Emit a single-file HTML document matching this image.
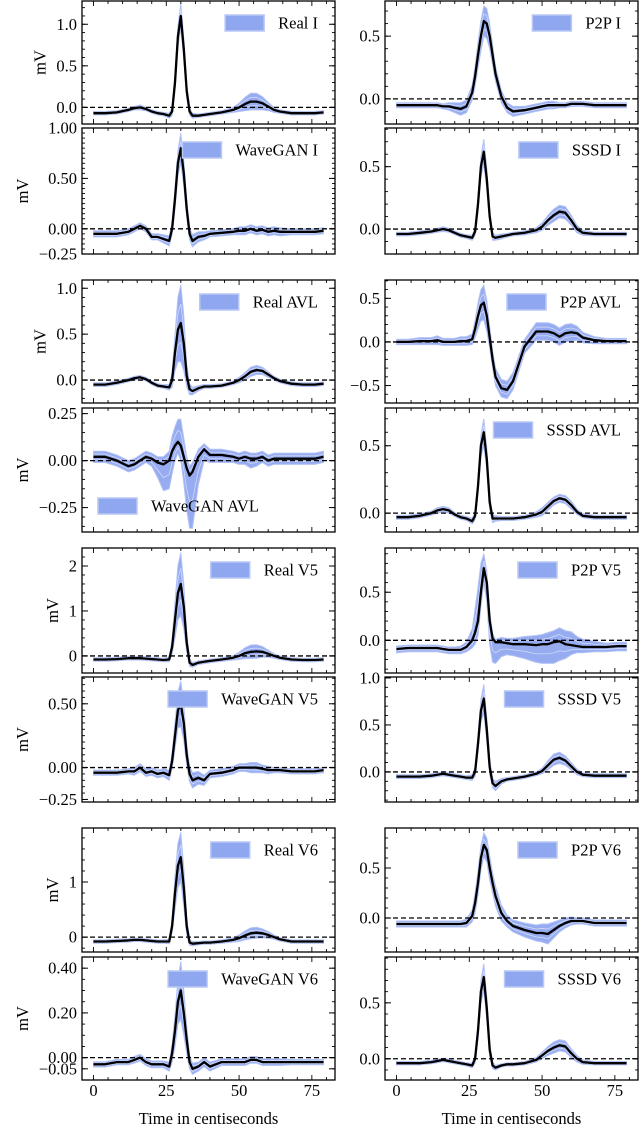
<!DOCTYPE html>
<html><head><meta charset="utf-8"><style>
html,body{margin:0;padding:0;background:#fff;}
svg{display:block;}
text{font-family:"Liberation Serif",serif;fill:#000;}
</style></head><body>
<svg id="fig" width="640" height="1126" viewBox="0 0 640 1126" xmlns="http://www.w3.org/2000/svg"></svg>
<script>
// shared time samples (centiseconds)
const T = [0,4,8,12,14,16,18,20,22,24,26,27,28,29,30,31,32,33,34,36,38,40,44,48,50,52,54,56,58,60,62,64,68,72,76,79];
const xTicks = [0,25,50,75];
const xTickLabels = ["0","25","50","75"];

// Panel series (mean and band half-widths)
const realIMean = [-0.07,-0.07,-0.06,-0.03,-0.01,0.0,-0.02,-0.05,-0.07,-0.08,-0.1,-0.05,0.3,0.85,1.1,0.7,0.2,-0.05,-0.1,-0.1,-0.09,-0.08,-0.06,-0.03,0.0,0.04,0.07,0.07,0.05,0.01,-0.03,-0.05,-0.07,-0.07,-0.07,-0.06];
const realIW = [0.02,0.02,0.02,0.02,0.02,0.03,0.02,0.02,0.02,0.02,0.03,0.05,0.1,0.12,0.15,0.12,0.08,0.04,0.03,0.02,0.02,0.02,0.02,0.03,0.05,0.08,0.1,0.1,0.08,0.05,0.03,0.02,0.02,0.02,0.02,0.02];
const p2pIMean = [-0.05,-0.05,-0.05,-0.05,-0.05,-0.06,-0.06,-0.07,-0.08,-0.06,0.05,0.18,0.35,0.5,0.62,0.6,0.5,0.35,0.2,0.02,-0.07,-0.1,-0.09,-0.07,-0.06,-0.05,-0.05,-0.05,-0.05,-0.04,-0.04,-0.04,-0.05,-0.05,-0.05,-0.05];
const p2pIW = [0.02,0.02,0.02,0.02,0.02,0.02,0.03,0.04,0.05,0.05,0.06,0.08,0.1,0.12,0.12,0.12,0.1,0.08,0.06,0.05,0.04,0.04,0.03,0.03,0.03,0.03,0.03,0.02,0.02,0.02,0.02,0.02,0.02,0.02,0.02,0.02];
const wganIMean = [-0.05,-0.05,-0.05,-0.03,0.0,0.03,0.0,-0.08,-0.08,-0.1,-0.12,0.0,0.3,0.65,0.8,0.55,0.2,-0.05,-0.12,-0.08,-0.07,-0.05,-0.04,-0.03,-0.02,-0.02,0.0,-0.02,-0.01,-0.03,-0.02,-0.03,-0.03,-0.03,-0.03,-0.02];
const wganIW = [0.03,0.03,0.03,0.03,0.03,0.03,0.03,0.03,0.03,0.04,0.05,0.06,0.1,0.12,0.15,0.12,0.08,0.06,0.06,0.05,0.04,0.03,0.03,0.03,0.04,0.04,0.04,0.04,0.04,0.04,0.04,0.04,0.03,0.03,0.03,0.03];
const sssdIMean = [-0.04,-0.04,-0.03,-0.02,-0.01,0.0,-0.01,-0.03,-0.05,-0.06,-0.07,-0.02,0.2,0.5,0.62,0.4,0.1,-0.06,-0.07,-0.06,-0.05,-0.04,-0.03,-0.01,0.02,0.07,0.11,0.14,0.13,0.07,0.0,-0.03,-0.04,-0.04,-0.04,-0.04];
const sssdIW = [0.015,0.015,0.015,0.015,0.015,0.02,0.015,0.015,0.015,0.015,0.02,0.03,0.05,0.08,0.1,0.08,0.05,0.03,0.02,0.02,0.015,0.015,0.015,0.02,0.03,0.04,0.05,0.05,0.05,0.04,0.03,0.02,0.015,0.015,0.015,0.015];
const realAvlMean = [-0.05,-0.05,-0.03,0.0,0.02,0.03,0.01,-0.03,-0.06,-0.07,-0.08,0.0,0.3,0.55,0.62,0.4,0.05,-0.1,-0.12,-0.09,-0.07,-0.07,-0.06,-0.03,0.0,0.04,0.09,0.11,0.1,0.06,0.02,-0.01,-0.04,-0.05,-0.05,-0.04];
const realAvlW = [0.02,0.02,0.02,0.02,0.02,0.02,0.02,0.02,0.02,0.02,0.03,0.08,0.2,0.35,0.42,0.3,0.12,0.06,0.04,0.03,0.02,0.02,0.02,0.02,0.03,0.04,0.05,0.05,0.04,0.03,0.02,0.02,0.02,0.02,0.02,0.02];
const p2pAvlMean = [0.0,0.0,0.01,0.01,0.02,0.0,0.0,0.0,0.01,0.01,0.03,0.15,0.3,0.42,0.45,0.3,0.05,-0.2,-0.4,-0.53,-0.55,-0.45,-0.05,0.12,0.12,0.12,0.1,0.06,0.1,0.11,0.1,0.05,0.02,0.01,0.01,0.01];
const p2pAvlW = [0.03,0.03,0.04,0.04,0.05,0.04,0.04,0.04,0.05,0.05,0.06,0.1,0.15,0.18,0.2,0.18,0.12,0.1,0.1,0.1,0.1,0.1,0.08,0.1,0.1,0.1,0.1,0.1,0.1,0.1,0.08,0.06,0.04,0.03,0.03,0.03];
const wganAvlMean = [0.02,0.02,0.0,-0.03,-0.02,0.0,0.02,0.01,-0.01,-0.02,0.0,0.05,0.08,0.1,0.08,0.02,-0.04,-0.08,-0.06,0.02,0.06,0.03,0.03,0.02,0.01,0.02,0.01,0.01,0.02,0.0,0.01,0.01,0.01,0.01,0.01,0.02];
const wganAvlWHi = [0.03,0.03,0.03,0.03,0.03,0.03,0.03,0.03,0.03,0.04,0.05,0.08,0.1,0.12,0.14,0.1,0.06,0.05,0.05,0.04,0.03,0.03,0.03,0.03,0.03,0.03,0.03,0.03,0.03,0.03,0.03,0.03,0.03,0.03,0.03,0.03];
const wganAvlWLo = [0.03,0.03,0.03,0.03,0.03,0.03,0.03,0.04,0.08,0.14,0.15,0.12,0.08,0.06,0.08,0.14,0.22,0.28,0.3,0.15,0.06,0.04,0.04,0.03,0.03,0.04,0.05,0.04,0.03,0.03,0.03,0.03,0.03,0.03,0.03,0.03];
const sssdAvlMean = [-0.03,-0.03,-0.02,0.0,0.02,0.03,0.02,-0.01,-0.03,-0.04,-0.06,-0.02,0.2,0.5,0.6,0.4,0.08,-0.04,-0.04,-0.04,-0.04,-0.04,-0.03,-0.01,0.01,0.05,0.09,0.11,0.1,0.06,0.01,-0.02,-0.03,-0.03,-0.03,-0.03];
const sssdAvlW = [0.015,0.015,0.015,0.015,0.02,0.02,0.02,0.015,0.015,0.015,0.02,0.03,0.05,0.08,0.1,0.08,0.05,0.03,0.02,0.015,0.015,0.015,0.015,0.02,0.03,0.03,0.03,0.03,0.03,0.03,0.02,0.015,0.015,0.015,0.015,0.015];
const realV5Mean = [-0.08,-0.08,-0.07,-0.05,-0.05,-0.05,-0.06,-0.07,-0.08,-0.09,-0.08,0.2,0.8,1.4,1.6,1.1,0.3,-0.15,-0.2,-0.15,-0.13,-0.11,-0.08,-0.04,0.0,0.06,0.09,0.1,0.09,0.05,0.0,-0.04,-0.08,-0.09,-0.09,-0.08];
const realV5W = [0.04,0.04,0.04,0.04,0.04,0.04,0.04,0.04,0.04,0.04,0.05,0.15,0.4,0.6,0.7,0.5,0.2,0.08,0.05,0.04,0.04,0.04,0.04,0.05,0.08,0.12,0.15,0.15,0.12,0.08,0.05,0.04,0.04,0.04,0.04,0.04];
const p2pV5Mean = [-0.09,-0.08,-0.08,-0.08,-0.08,-0.09,-0.1,-0.1,-0.1,-0.07,0.0,0.08,0.2,0.5,0.75,0.6,0.2,0.02,-0.02,-0.02,-0.03,-0.04,-0.04,-0.05,-0.04,-0.04,-0.02,-0.01,-0.04,-0.05,-0.06,-0.07,-0.07,-0.07,-0.06,-0.06];
const p2pV5WHi = [0.03,0.03,0.03,0.03,0.03,0.03,0.03,0.03,0.04,0.05,0.12,0.25,0.35,0.3,0.15,0.12,0.1,0.05,0.03,0.05,0.05,0.06,0.08,0.1,0.1,0.12,0.12,0.14,0.14,0.14,0.1,0.08,0.06,0.04,0.04,0.04];
const p2pV5WLo = [0.04,0.04,0.04,0.04,0.04,0.04,0.04,0.04,0.04,0.05,0.08,0.12,0.15,0.15,0.15,0.2,0.25,0.25,0.22,0.15,0.12,0.12,0.15,0.18,0.2,0.2,0.22,0.2,0.15,0.1,0.07,0.06,0.05,0.05,0.05,0.05];
const wganV5Mean = [-0.04,-0.04,-0.04,-0.03,-0.03,0.0,-0.04,-0.03,-0.05,-0.04,-0.06,0.05,0.25,0.45,0.5,0.35,0.1,-0.05,-0.1,-0.08,-0.1,-0.05,-0.04,-0.02,0.0,0.0,0.0,0.0,-0.01,-0.02,-0.02,-0.02,-0.03,-0.03,-0.03,-0.02];
const wganV5W = [0.02,0.02,0.02,0.02,0.03,0.03,0.03,0.03,0.03,0.03,0.04,0.06,0.1,0.14,0.18,0.14,0.08,0.06,0.06,0.05,0.04,0.03,0.03,0.03,0.03,0.03,0.04,0.04,0.03,0.03,0.02,0.02,0.02,0.02,0.02,0.02];
const sssdV5Mean = [-0.05,-0.05,-0.05,-0.04,-0.03,-0.02,-0.03,-0.04,-0.05,-0.06,-0.06,0.0,0.3,0.65,0.78,0.45,0.05,-0.12,-0.15,-0.1,-0.08,-0.07,-0.05,-0.02,0.01,0.07,0.13,0.15,0.12,0.06,0.0,-0.03,-0.04,-0.04,-0.04,-0.04];
const sssdV5W = [0.02,0.02,0.02,0.02,0.02,0.02,0.02,0.02,0.02,0.02,0.03,0.05,0.08,0.12,0.15,0.12,0.08,0.05,0.05,0.03,0.02,0.02,0.02,0.02,0.03,0.05,0.06,0.06,0.05,0.04,0.03,0.02,0.02,0.02,0.02,0.02];
const realV6Mean = [-0.08,-0.08,-0.07,-0.06,-0.05,-0.05,-0.06,-0.07,-0.08,-0.08,-0.08,0.2,0.8,1.3,1.45,0.9,0.2,-0.1,-0.12,-0.11,-0.1,-0.1,-0.08,-0.05,-0.02,0.03,0.07,0.08,0.07,0.04,0.0,-0.04,-0.08,-0.08,-0.08,-0.08];
const realV6W = [0.03,0.03,0.03,0.03,0.03,0.03,0.03,0.03,0.03,0.03,0.04,0.12,0.3,0.4,0.45,0.35,0.15,0.05,0.04,0.03,0.03,0.03,0.03,0.04,0.06,0.08,0.1,0.1,0.08,0.06,0.04,0.03,0.03,0.03,0.03,0.03];
const p2pV6Mean = [-0.06,-0.06,-0.06,-0.06,-0.06,-0.06,-0.06,-0.06,-0.06,-0.05,0.02,0.15,0.35,0.6,0.73,0.68,0.5,0.35,0.22,0.05,-0.03,-0.08,-0.12,-0.15,-0.15,-0.16,-0.12,-0.08,-0.05,-0.03,-0.03,-0.03,-0.05,-0.05,-0.05,-0.05];
const p2pV6W = [0.03,0.03,0.03,0.03,0.03,0.03,0.03,0.03,0.03,0.04,0.06,0.1,0.12,0.12,0.12,0.12,0.12,0.1,0.1,0.08,0.06,0.06,0.07,0.08,0.09,0.1,0.08,0.06,0.05,0.04,0.03,0.03,0.03,0.03,0.03,0.03];
const wganV6Mean = [-0.03,-0.03,-0.02,-0.02,-0.01,0.0,-0.02,-0.03,-0.03,-0.03,-0.04,0.02,0.12,0.25,0.3,0.2,0.08,-0.02,-0.05,-0.04,-0.02,-0.04,-0.02,-0.02,-0.02,-0.02,-0.01,-0.01,-0.02,-0.02,-0.02,-0.02,-0.02,-0.02,-0.02,-0.02];
const wganV6W = [0.012,0.012,0.012,0.012,0.015,0.015,0.015,0.015,0.015,0.015,0.02,0.04,0.07,0.1,0.13,0.1,0.06,0.03,0.025,0.02,0.02,0.02,0.015,0.015,0.015,0.015,0.015,0.015,0.015,0.015,0.015,0.015,0.012,0.012,0.012,0.012];
const sssdV6Mean = [-0.04,-0.04,-0.04,-0.03,-0.02,-0.01,-0.02,-0.03,-0.04,-0.05,-0.06,0.0,0.25,0.6,0.73,0.45,0.08,-0.06,-0.08,-0.06,-0.05,-0.05,-0.04,-0.01,0.03,0.07,0.1,0.12,0.11,0.05,0.0,-0.03,-0.04,-0.04,-0.04,-0.04];
const sssdV6W = [0.015,0.015,0.015,0.015,0.015,0.015,0.015,0.015,0.015,0.015,0.02,0.04,0.07,0.1,0.12,0.1,0.06,0.03,0.02,0.015,0.015,0.015,0.015,0.02,0.03,0.04,0.05,0.05,0.05,0.04,0.03,0.02,0.015,0.015,0.015,0.015];

// y ticks and labels per panel
const yTicksRealI=[0,0.5,1.0], yLabRealI=["0.0","0.5","1.0"];
const yTicksP2PI=[0,0.5], yLabP2PI=["0.0","0.5"];
const yTicksWI=[-0.25,0,0.5,1.0], yLabWI=["\u22120.25","0.00","0.50","1.00"];
const yTicksSI=[0,0.5], yLabSI=["0.0","0.5"];
const yTicksRAvl=[0,0.5,1.0], yLabRAvl=["0.0","0.5","1.0"];
const yTicksPAvl=[-0.5,0,0.5], yLabPAvl=["\u22120.5","0.0","0.5"];
const yTicksWAvl=[-0.25,0,0.25], yLabWAvl=["\u22120.25","0.00","0.25"];
const yTicksSAvl=[0,0.5], yLabSAvl=["0.0","0.5"];
const yTicksRV5=[0,1,2], yLabRV5=["0","1","2"];
const yTicksPV5=[0,0.5], yLabPV5=["0.0","0.5"];
const yTicksWV5=[-0.25,0,0.5], yLabWV5=["\u22120.25","0.00","0.50"];
const yTicksSV5=[0,0.5,1.0], yLabSV5=["0.0","0.5","1.0"];
const yTicksRV6=[0,1], yLabRV6=["0","1"];
const yTicksPV6=[0,0.5], yLabPV6=["0.0","0.5"];
const yTicksWV6=[-0.05,0,0.2,0.4], yLabWV6=["\u22120.05","0.00","0.20","0.40"];
const yTicksSV6=[0,0.5], yLabSV6=["0.0","0.5"];

const NS="http://www.w3.org/2000/svg";
const svg=document.getElementById('fig');
function mk(tag,attrs,parent){const e=document.createElementNS(NS,tag);for(const k in attrs)e.setAttribute(k,attrs[k]);(parent||svg).appendChild(e);return e;}

const FS=16.5;
const COLX={L:[82,335],R:[385,638]};
const ROWY=[[1,124],[128,254],[280,403],[408,532],[548,673],[677,802],[828,952],[957,1080]];
const XMIN=-3.95,XMAX=82.95;

const panels=[
 {id:'real-i',col:'L',row:0,yl:[-0.2,1.28],m:realIMean,w:realIW,t:yTicksRealI,tl:yLabRealI,mn:0.1,lab:'Real I',ylab:true},
 {id:'p2p-i',col:'R',row:0,yl:[-0.2,0.78],m:p2pIMean,w:p2pIW,t:yTicksP2PI,tl:yLabP2PI,mn:0.1,lab:'P2P I'},
 {id:'wavegan-i',col:'L',row:1,yl:[-0.25,1.0],m:wganIMean,w:wganIW,t:yTicksWI,tl:yLabWI,mn:0.05,lab:'WaveGAN I',ylab:true},
 {id:'sssd-i',col:'R',row:1,yl:[-0.2,0.81],m:sssdIMean,w:sssdIW,t:yTicksSI,tl:yLabSI,mn:0.1,lab:'SSSD I'},
 {id:'real-avl',col:'L',row:2,yl:[-0.25,1.09],m:realAvlMean,w:realAvlW,t:yTicksRAvl,tl:yLabRAvl,mn:0.1,lab:'Real AVL',ylab:true},
 {id:'p2p-avl',col:'R',row:2,yl:[-0.7,0.71],m:p2pAvlMean,w:p2pAvlW,t:yTicksPAvl,tl:yLabPAvl,mn:0.1,lab:'P2P AVL'},
 {id:'wavegan-avl',col:'L',row:3,yl:[-0.38,0.28],m:wganAvlMean,w:wganAvlWHi,wl:wganAvlWLo,t:yTicksWAvl,tl:yLabWAvl,mn:0.05,lab:'WaveGAN AVL',ylab:true,legLow:true},
 {id:'sssd-avl',col:'R',row:3,yl:[-0.14,0.78],m:sssdAvlMean,w:sssdAvlW,t:yTicksSAvl,tl:yLabSAvl,mn:0.1,lab:'SSSD AVL'},
 {id:'real-v5',col:'L',row:4,yl:[-0.38,2.4],m:realV5Mean,w:realV5W,t:yTicksRV5,tl:yLabRV5,mn:0.2,lab:'Real V5',ylab:true},
 {id:'p2p-v5',col:'R',row:4,yl:[-0.34,0.96],m:p2pV5Mean,w:p2pV5WHi,wl:p2pV5WLo,t:yTicksPV5,tl:yLabPV5,mn:0.1,lab:'P2P V5'},
 {id:'wavegan-v5',col:'L',row:5,yl:[-0.27,0.71],m:wganV5Mean,w:wganV5W,t:yTicksWV5,tl:yLabWV5,mn:0.05,lab:'WaveGAN V5',ylab:true},
 {id:'sssd-v5',col:'R',row:5,yl:[-0.32,1.01],m:sssdV5Mean,w:sssdV5W,t:yTicksSV5,tl:yLabSV5,mn:0.1,lab:'SSSD V5'},
 {id:'real-v6',col:'L',row:6,yl:[-0.27,1.98],m:realV6Mean,w:realV6W,t:yTicksRV6,tl:yLabRV6,mn:0.2,lab:'Real V6',ylab:true},
 {id:'p2p-v6',col:'R',row:6,yl:[-0.34,0.9],m:p2pV6Mean,w:p2pV6W,t:yTicksPV6,tl:yLabPV6,mn:0.1,lab:'P2P V6'},
 {id:'wavegan-v6',col:'L',row:7,yl:[-0.1,0.45],m:wganV6Mean,w:wganV6W,t:yTicksWV6,tl:yLabWV6,mn:0.05,lab:'WaveGAN V6',ylab:true,xlab:true},
 {id:'sssd-v6',col:'R',row:7,yl:[-0.19,0.91],m:sssdV6Mean,w:sssdV6W,t:yTicksSV6,tl:yLabSV6,mn:0.1,lab:'SSSD V6',xlab:true}
];

panels.forEach(p=>{
 const [x0,x1]=COLX[p.col],[y0,y1]=ROWY[p.row];
 const sx=v=>x0+(v-XMIN)/(XMAX-XMIN)*(x1-x0);
 const sy=v=>y1-(v-p.yl[0])/(p.yl[1]-p.yl[0])*(y1-y0);
 const g=mk('g',{});
 
 
 const cid='clip-'+p.id;
 const cp=mk('clipPath',{id:cid},g);mk('rect',{x:x0,y:y0,width:x1-x0,height:y1-y0},cp);
 const pg=mk('g',{'clip-path':'url(#'+cid+')'},g);
 const wl=p.wl||p.w;
 const up=T.map((t,i)=>sx(t).toFixed(1)+','+sy(p.m[i]+p.w[i]).toFixed(1));
 const dn=T.map((t,i)=>sx(t).toFixed(1)+','+sy(p.m[i]-wl[i]).toFixed(1)).reverse();
 const band=mk('polygon',{points:up.concat(dn).join(' '),fill:'#97acf0',stroke:'#b3c3f5','stroke-width':1},pg);
 
 
 [0.5,-0.5].forEach(f=>{
  const pts=T.map((t,i)=>sx(t).toFixed(1)+','+sy(p.m[i]+(f>0?p.w[i]:wl[i])*f).toFixed(1)).join(' ');
  mk('polyline',{points:pts,fill:'none',stroke:'#d5defa','stroke-width':0.7},pg);
 });
 const zl=mk('line',{x1:x0,x2:x1,y1:sy(0),y2:sy(0),stroke:'#000','stroke-width':1.3,'stroke-dasharray':'5,3'},pg);
 
 
 const ml=mk('polyline',{points:T.map((t,i)=>sx(t).toFixed(1)+','+sy(p.m[i]).toFixed(1)).join(' '),fill:'none',stroke:'#000','stroke-width':2.3,'stroke-linejoin':'round'},pg);
 
 
 for(let v=0;v<=80;v+=5){
  const major=v%25===0,L=major?5:3,X=sx(v);
  mk('line',{x1:X,x2:X,y1:y1,y2:y1-L,stroke:'#000','stroke-width':0.9},g);
  mk('line',{x1:X,x2:X,y1:y0,y2:y0+L,stroke:'#000','stroke-width':0.9},g);
 }
 const start=Math.ceil(p.yl[0]/p.mn-1e-9);
 for(let k=start;k*p.mn<=p.yl[1]+1e-9;k++){
  const Y=sy(k*p.mn);
  mk('line',{x1:x0,x2:x0+3,y1:Y,y2:Y,stroke:'#000','stroke-width':0.9},g);
  mk('line',{x1:x1,x2:x1-3,y1:Y,y2:Y,stroke:'#000','stroke-width':0.9},g);
 }
 let maxW=0;
 p.t.forEach((v,i)=>{
  const Y=sy(v);
  mk('line',{x1:x0,x2:x0+6,y1:Y,y2:Y,stroke:'#000','stroke-width':1},g);
  mk('line',{x1:x1,x2:x1-6,y1:Y,y2:Y,stroke:'#000','stroke-width':1},g);
  const tx=mk('text',{x:x0-5,y:Y+5.5,'text-anchor':'end','font-size':FS},g);
  tx.textContent=p.tl[i];
  
  
  maxW=Math.max(maxW,tx.getComputedTextLength());
 });
 if(p.ylab){
  const cx=x0-5-maxW-11, cy=(y0+y1)/2;
  const yl=mk('text',{x:cx,y:cy,'text-anchor':'middle','font-size':FS,transform:'rotate(-90 '+cx+' '+cy+')'},g);
  yl.textContent='mV';
  
  
 }
 if(p.xlab){
  xTicks.forEach((v,i)=>{
   const t=mk('text',{x:sx(v),y:1096,'text-anchor':'middle','font-size':FS},g);
   t.textContent=xTickLabels[i];
   
   
  });
  const xl=mk('text',{x:(x0+x1)/2,y:1124,'text-anchor':'middle','font-size':FS},g);
  xl.textContent='Time in centiseconds';
  
  
 }
 mk('rect',{x:x0,y:y0,width:x1-x0,height:y1-y0,fill:'none',stroke:'#000','stroke-width':1.3},g);
 const lg=mk('g',{},g);
 
 
 let ty,tx0,txt;
 if(p.legLow){
  ty=y1-26;
  txt=mk('text',{x:x0+69,y:ty+5.5,'font-size':FS},lg);
  txt.textContent=p.lab; tx0=x0+69;
 } else {
  ty=y0+22;
  txt=mk('text',{x:x1-17,y:ty+5.5,'text-anchor':'end','font-size':FS},lg);
  txt.textContent=p.lab; tx0=x1-17-txt.getComputedTextLength();
 }
 
 
 const pr=mk('rect',{x:tx0-53,y:ty-8,width:39,height:16,fill:'#8fa7ef',stroke:'#b9c8f6','stroke-width':1.5},lg);
 
 
});
</script>
</body></html>
